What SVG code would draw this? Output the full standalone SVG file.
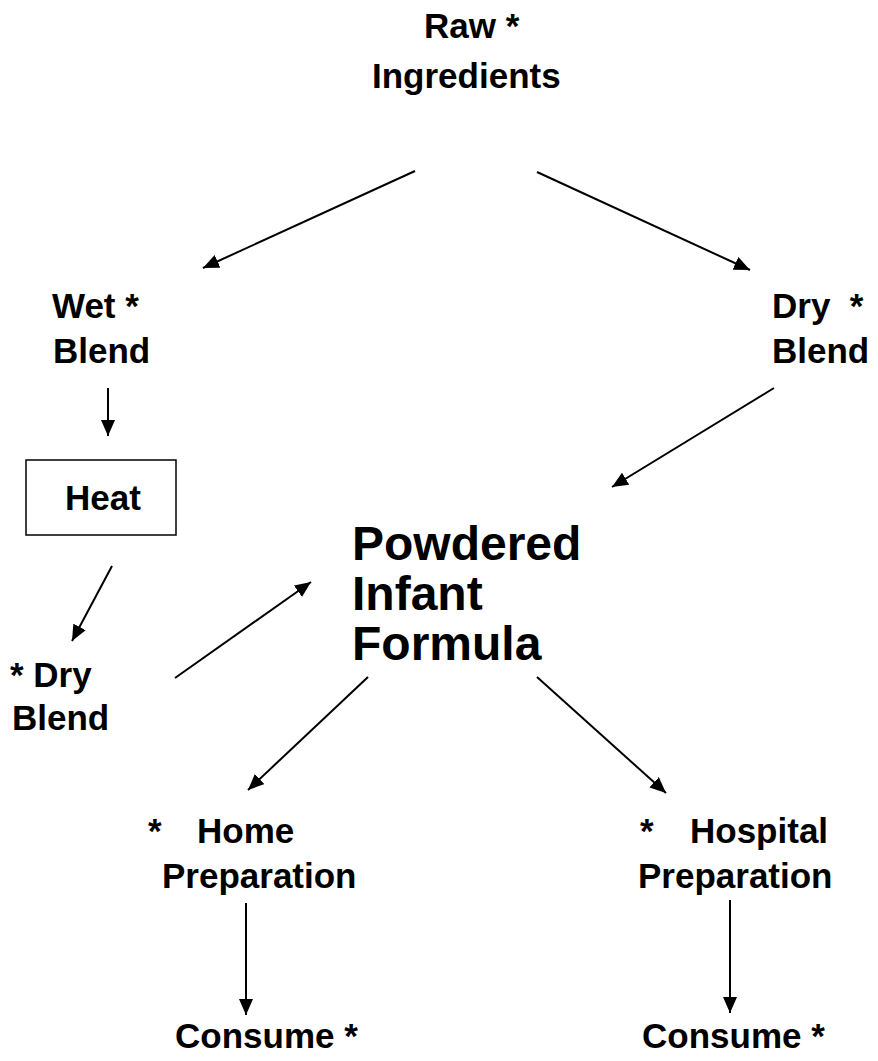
<svg xmlns="http://www.w3.org/2000/svg" width="878" height="1061" viewBox="0 0 878 1061">
<style>
text{font-family:"Liberation Sans",Arial,sans-serif;font-weight:bold;font-size:35px;fill:#000}
.big{font-size:48px}
.c{stroke:#000;stroke-width:2;fill:none}
</style>
<defs>
<marker id="ah" viewBox="0 0 16 14" refX="16" refY="7" markerWidth="16" markerHeight="14" markerUnits="userSpaceOnUse" orient="auto"><path d="M0,0 L16,7 L0,14 z" fill="#000"/></marker>
</defs>
<rect width="878" height="1061" fill="#fff"/>
<g id="raw"><text x="424" y="38">Raw *</text><text x="372" y="88">Ingredients</text></g>
<g id="wet"><text x="52" y="318">Wet *</text><text x="53" y="363">Blend</text></g>
<g id="dry"><text x="772" y="318" xml:space="preserve">Dry  *</text><text x="772" y="363">Blend</text></g>
<g id="heat"><rect x="26" y="460" width="150" height="75" fill="#fff" stroke="#000" stroke-width="1.5"/><text x="103" y="510" text-anchor="middle">Heat</text></g>
<g id="dry2"><text x="10" y="687">* Dry</text><text x="12" y="730">Blend</text></g>
<g id="pif"><text class="big" x="352" y="560">Powdered</text><text class="big" x="352" y="610">Infant</text><text class="big" x="352" y="660">Formula</text></g>
<g id="home"><text x="148" y="843">*<tspan x="197">Home</tspan></text><text x="162" y="888">Preparation</text></g>
<g id="hosp"><text x="640" y="843">*<tspan x="690">Hospital</tspan></text><text x="638" y="888">Preparation</text></g>
<g id="consume1"><text x="175" y="1048">Consume *</text></g>
<g id="consume2"><text x="642" y="1048">Consume *</text></g>
<g id="connectors">
<line class="c" x1="415" y1="171" x2="203" y2="268" marker-end="url(#ah)"/>
<line class="c" x1="537" y1="172" x2="750" y2="270" marker-end="url(#ah)"/>
<line class="c" x1="108" y1="388" x2="108" y2="436" marker-end="url(#ah)"/>
<line class="c" x1="112" y1="566" x2="72" y2="641" marker-end="url(#ah)"/>
<line class="c" x1="175" y1="678" x2="311" y2="582" marker-end="url(#ah)"/>
<line class="c" x1="774" y1="388" x2="612" y2="487" marker-end="url(#ah)"/>
<line class="c" x1="368" y1="677" x2="248" y2="790" marker-end="url(#ah)"/>
<line class="c" x1="537" y1="677" x2="666" y2="793" marker-end="url(#ah)"/>
<line class="c" x1="246" y1="903" x2="246" y2="1015" marker-end="url(#ah)"/>
<line class="c" x1="730" y1="900" x2="730" y2="1013" marker-end="url(#ah)"/>
</g>
</svg>
